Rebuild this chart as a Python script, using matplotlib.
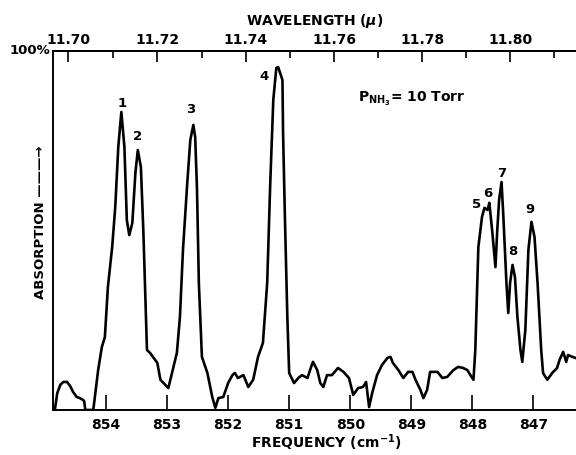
import numpy as np
import matplotlib
matplotlib.use('Agg')
import matplotlib.pyplot as plt
from matplotlib.ticker import FixedLocator, FormatStrFormatter

# Espectro de absorcion NH3 (lectura del grafico)
freq = [854.84, 854.80, 854.75, 854.70, 854.64, 854.59, 854.54, 854.48, 854.43, 854.38,
        854.36, 854.34, 854.21, 854.13, 854.07, 854.02, 853.97, 853.90, 853.85, 853.80,
        853.75, 853.70, 853.66, 853.62, 853.57, 853.52, 853.48, 853.43, 853.39, 853.33,
        853.28, 853.16, 853.11, 853.03, 852.98, 852.92, 852.84, 852.79, 852.74, 852.67,
        852.62, 852.57, 852.54, 852.51, 852.48, 852.43, 852.34, 852.26, 852.21, 852.16,
        852.08, 852.00, 851.93, 851.89, 851.84, 851.75, 851.67, 851.59, 851.51, 851.43,
        851.36, 851.31, 851.26, 851.21, 851.18, 851.11, 851.10, 851.07, 851.03, 851.00,
        850.92, 850.85, 850.79, 850.70, 850.64, 850.61, 850.54, 850.49, 850.44, 850.38,
        850.30, 850.20, 850.11, 850.02, 849.95, 849.87, 849.79, 849.74, 849.69, 849.64,
        849.56, 849.48, 849.39, 849.34, 849.30, 849.21, 849.13, 849.05, 848.98, 848.93,
        848.85, 848.80, 848.74, 848.69, 848.57, 848.49, 848.41, 848.31, 848.23, 848.15,
        848.08, 848.03, 847.98, 847.95, 847.90, 847.84, 847.80, 847.75, 847.72, 847.67,
        847.62, 847.59, 847.56, 847.52, 847.49, 847.44, 847.41, 847.38, 847.34, 847.30,
        847.26, 847.21, 847.18, 847.13, 847.08, 847.03, 846.98, 846.93, 846.87, 846.84,
        846.77, 846.69, 846.61, 846.57, 846.51, 846.46, 846.43, 846.36, 846.31]
absorcion = [0.0, 4.7, 7.0, 7.8, 7.8, 6.7, 5.0, 3.6, 3.3, 2.8,
             2.5, 0.0, 0.0, 11.1, 17.5, 20.3, 34.3, 45.4, 56.5, 73.3,
             83.0, 73.3, 52.9, 48.7, 52.1, 66.0, 72.4, 67.7, 50.1, 16.7,
             15.9, 13.1, 8.4, 7.0, 6.1, 10.3, 15.9, 25.9, 44.6, 63.2,
             75.2, 79.4, 76.0, 61.3, 35.4, 14.8, 10.3, 3.6, 0.6, 3.3,
             3.6, 7.5, 9.7, 10.3, 8.9, 9.7, 6.4, 8.4, 14.8, 18.7,
             35.4, 63.2, 86.4, 95.3, 95.5, 91.9, 77.2, 53.8, 25.9, 10.3,
             7.5, 8.9, 9.7, 8.9, 12.0, 13.4, 11.1, 7.5, 6.4, 9.7,
             9.7, 11.7, 10.6, 8.9, 4.2, 6.1, 6.4, 7.8, 0.8, 4.7,
             9.7, 12.5, 14.5, 14.8, 13.1, 11.1, 8.9, 10.6, 10.6, 8.4,
             5.6, 3.3, 5.6, 10.6, 10.6, 8.9, 9.2, 11.1, 12.0, 11.7,
             11.1, 9.7, 8.4, 16.7, 45.4, 53.8, 56.3, 55.7, 57.7, 49.3,
             39.8, 50.1, 58.5, 63.5, 53.8, 35.4, 27.0, 35.4, 40.4, 37.0,
             25.9, 16.7, 13.4, 22.3, 44.6, 52.4, 48.2, 35.4, 16.7, 10.3,
             8.4, 10.3, 11.7, 13.9, 16.2, 13.4, 15.3, 14.8, 14.5]

# Etiquetas de los picos
pico_num = ['1', '2', '3', '4', '5', '6', '7', '8', '9']
pico_f = [853.74, 853.48, 852.62, 851.41, 847.93, 847.75, 847.51, 847.33, 847.05]
pico_a = [85.5, 76.3, 83.6, 92.8, 57.1, 60.4, 66.0, 44.0, 55.7]

ticks_freq = [854, 853, 852, 851, 850, 849, 848, 847]
ticks_lam = [11.70, 11.72, 11.74, 11.76, 11.78, 11.80]
ticks_lam_menor = [11.71, 11.73, 11.75, 11.77, 11.79, 11.81]
desplaz = 0.08  # calibracion del eje de longitud de onda

plt.rcParams['font.family'] = 'DejaVu Sans'
plt.rcParams['font.weight'] = 'bold'

fig = plt.figure(figsize=(5.76, 4.55), dpi=100)
ax = fig.add_axes([0.092, 0.099, 0.908, 0.789])

ax.plot(freq, absorcion, color='black', lw=1.9, solid_joinstyle='round')
ax.set_xlim(854.87, 846.30)
ax.set_ylim(0, 100)

for n, f, a in zip(pico_num, pico_f, pico_a):
    ax.text(f, a, n, ha='center', va='center', fontsize=9.5, fontweight='bold')

ax.text(849.0, 86.5, r'P$_{\mathregular{NH_3}}$= 10 Torr', ha='center', va='center',
        fontsize=10, fontweight='bold')

for s in ['left', 'top', 'bottom']:
    ax.spines[s].set_linewidth(1.4)
ax.spines['right'].set_visible(False)

ax.set_yticks([])
ax.set_xticks(ticks_freq)
ax.set_xticklabels([str(t) for t in ticks_freq])
ax.tick_params(axis='x', direction='in', length=11, width=1.2, pad=6, labelsize=10)

sec = ax.secondary_xaxis('top', functions=(lambda f: 1e4 / (f + desplaz),
                                           lambda w: 1e4 / w - desplaz))
sec.xaxis.set_major_locator(FixedLocator(ticks_lam))
sec.xaxis.set_minor_locator(FixedLocator(ticks_lam_menor))
sec.xaxis.set_major_formatter(FormatStrFormatter('%.2f'))
sec.tick_params(which='major', direction='in', length=8, width=1.2, pad=3, labelsize=10)
sec.tick_params(which='minor', direction='in', length=5, width=1.2)
sec.spines['top'].set_linewidth(1.4)

fig.text(0.547, 0.954, r'WAVELENGTH ($\mu$)', ha='center', va='center',
         fontsize=10, fontweight='bold')
fig.text(0.566, 0.028, r'FREQUENCY (cm$^{\mathregular{-1}}$)', ha='center',
         va='center', fontsize=10, fontweight='bold')
fig.text(0.071, 0.512, 'ABSORPTION ———→', rotation=90, ha='center', va='center',
         fontsize=9.5, fontweight='bold')
fig.text(0.088, 0.888, '100%', ha='right', va='center', fontsize=9.5, fontweight='bold')

fig.savefig('out.png', dpi=100)
